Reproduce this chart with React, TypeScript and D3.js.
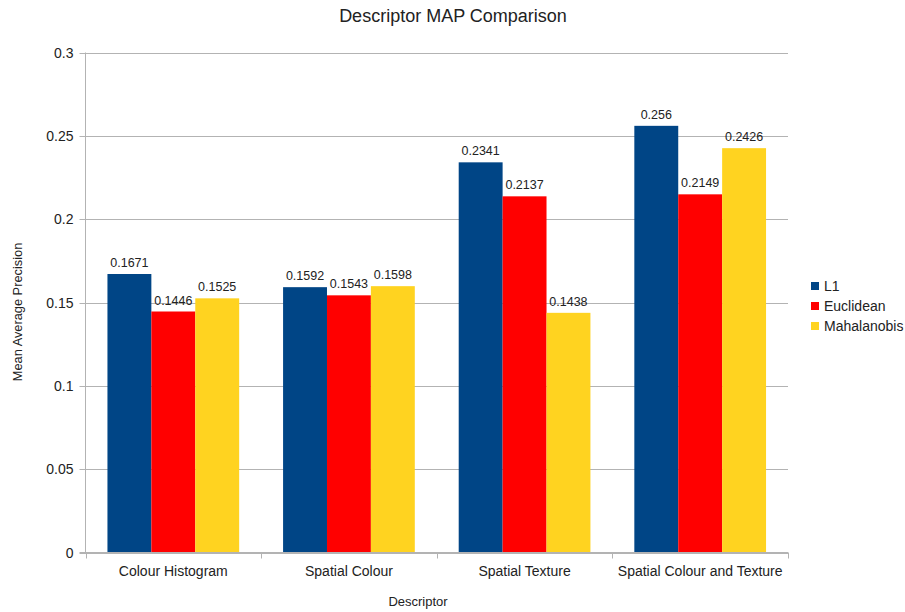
import { useEffect, useRef } from "react";
import * as d3 from "d3";

const categories = ["Colour Histogram", "Spatial Colour", "Spatial Texture", "Spatial Colour and Texture"];
const seriesNames = ["L1", "Euclidean", "Mahalanobis"];
const l1 = [0.1671, 0.1592, 0.2341, 0.256];
const euclidean = [0.1446, 0.1543, 0.2137, 0.2149];
const mahalanobis = [0.1525, 0.1598, 0.1438, 0.2426];
const yTicks = [0, 0.05, 0.1, 0.15, 0.2, 0.25, 0.3];
const colors = ["#004586", "#ff0000", "#ffd320"];

const W = 905;
const H = 612;

export default function App() {
  const ref = useRef<SVGSVGElement | null>(null);

  useEffect(() => {
    const svg = d3.select(ref.current);
    svg.selectAll("*").remove();

    const left = 85.5;
    const right = 788;
    const top = 52.5;
    const bottom = 552.5;
    const font = "'Liberation Sans', Arial, sans-serif";
    const series = [l1, euclidean, mahalanobis];

    const x = d3.scaleBand<string>().domain(categories).range([left, right]).paddingInner(0).paddingOuter(0);
    const xs = d3.scaleBand<string>().domain(seriesNames).range([0, x.bandwidth()]).paddingInner(0).paddingOuter(0.5);
    const y = d3.scaleLinear().domain([0, 0.3]).range([bottom, top]);

    svg.append("rect").attr("width", W).attr("height", H).attr("fill", "#fff");

    // grid
    svg
      .append("g")
      .selectAll("line")
      .data(yTicks)
      .join("line")
      .attr("x1", left - 6)
      .attr("x2", right)
      .attr("y1", (d) => Math.round(y(d)) + 0.5)
      .attr("y2", (d) => Math.round(y(d)) + 0.5)
      .attr("stroke", "#b3b3b3")
      .attr("stroke-width", 1);

    // y tick labels
    svg
      .append("g")
      .selectAll("text")
      .data(yTicks)
      .join("text")
      .attr("x", left - 12)
      .attr("y", (d) => y(d))
      .attr("dy", "0.36em")
      .attr("text-anchor", "end")
      .attr("font-family", font)
      .attr("font-size", 14)
      .attr("fill", "#222")
      .text((d) => String(d));

    // bars
    series.forEach((vals, si) => {
      const g = svg.append("g");
      g.selectAll("rect")
        .data(vals)
        .join("rect")
        .attr("x", (_, i) => (x(categories[i]) as number) + (xs(seriesNames[si]) as number))
        .attr("width", xs.bandwidth())
        .attr("y", (d) => y(d))
        .attr("height", (d) => y(0) - y(d))
        .attr("fill", colors[si]);
      g.selectAll("text")
        .data(vals)
        .join("text")
        .attr("x", (_, i) => (x(categories[i]) as number) + (xs(seriesNames[si]) as number) + xs.bandwidth() / 2)
        .attr("y", (d) => y(d) - 7)
        .attr("text-anchor", "middle")
        .attr("font-family", font)
        .attr("font-size", 12.5)
        .attr("fill", "#222")
        .text((d) => String(d));
    });

    // axes lines
    svg
      .append("line")
      .attr("x1", left)
      .attr("x2", left)
      .attr("y1", top)
      .attr("y2", bottom)
      .attr("stroke", "#b3b3b3");
    svg
      .append("line")
      .attr("x1", left - 6)
      .attr("x2", right)
      .attr("y1", bottom)
      .attr("y2", bottom)
      .attr("stroke", "#b3b3b3");

    // x ticks at band edges
    const edges = categories.map((c) => x(c) as number).concat([right]);
    svg
      .append("g")
      .selectAll("line")
      .data(edges)
      .join("line")
      .attr("x1", (d) => Math.round(d) + 0.5)
      .attr("x2", (d) => Math.round(d) + 0.5)
      .attr("y1", bottom)
      .attr("y2", bottom + 6)
      .attr("stroke", "#b3b3b3");

    svg
      .append("g")
      .selectAll("text")
      .data(categories)
      .join("text")
      .attr("x", (d) => (x(d) as number) + x.bandwidth() / 2)
      .attr("y", bottom + 23)
      .attr("text-anchor", "middle")
      .attr("font-family", font)
      .attr("font-size", 14)
      .attr("fill", "#222")
      .text((d) => d);

    // title
    svg
      .append("text")
      .attr("x", 453)
      .attr("y", 22)
      .attr("text-anchor", "middle")
      .attr("font-family", font)
      .attr("font-size", 18)
      .attr("fill", "#222")
      .text("Descriptor MAP Comparison");

    // axis titles
    svg
      .append("text")
      .attr("x", 418)
      .attr("y", 606)
      .attr("text-anchor", "middle")
      .attr("font-family", font)
      .attr("font-size", 13)
      .attr("fill", "#222")
      .text("Descriptor");
    svg
      .append("text")
      .attr("transform", `translate(22, 312) rotate(-90)`)
      .attr("text-anchor", "middle")
      .attr("font-family", font)
      .attr("font-size", 12.8)
      .attr("fill", "#222")
      .text("Mean Average Precision");

    // legend
    const lg = svg
      .append("g")
      .selectAll("g")
      .data(seriesNames)
      .join("g")
      .attr("transform", (_, i) => `translate(811, ${286 + i * 20})`);
    lg.append("rect")
      .attr("x", 0)
      .attr("y", -4)
      .attr("width", 8)
      .attr("height", 8)
      .attr("fill", (_, i) => colors[i]);
    lg.append("text")
      .attr("x", 13)
      .attr("y", 0)
      .attr("dy", "0.36em")
      .attr("font-family", font)
      .attr("font-size", 14)
      .attr("fill", "#222")
      .text((d) => d);
  }, []);

  return <svg ref={ref} width={W} height={H} style={{ display: "block", position: "absolute", left: 0, top: 0 }} />;
}
